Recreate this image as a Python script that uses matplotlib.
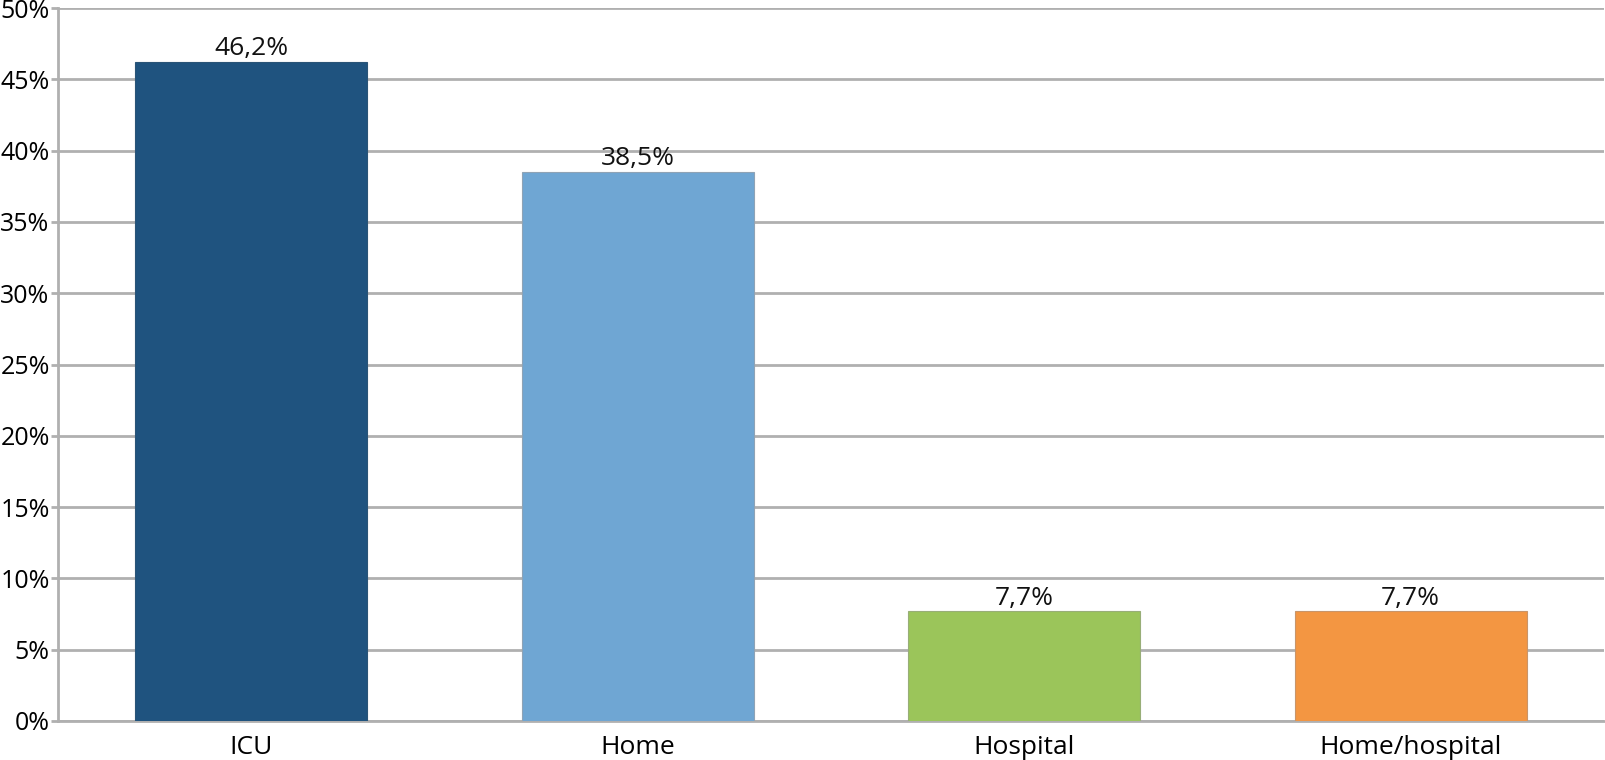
import matplotlib
matplotlib.use("Agg")
import matplotlib.pyplot as plt
import matplotlib.transforms as mtransforms
from matplotlib.ticker import FuncFormatter, MultipleLocator

categories = ["ICU", "Home", "Hospital", "Home/hospital"]
values = [46.2, 38.5, 7.7, 7.7]
labels = ["46,2%", "38,5%", "7,7%", "7,7%"]
colors = ["#1F537F", "#6FA6D3", "#9BC55A", "#F39642"]
edges = ["#2A5477", "#8FA3B5", "#98AE78", "#C8956A"]

plt.rcParams['font.family'] = ['Open Sans', 'DejaVu Sans']

fig = plt.figure(figsize=(16.06, 7.60), dpi=100)
left = 58
ax = fig.add_axes([left/1606, 1-721/760, (1604-left)/1606, 713/760])

x = list(range(len(categories)))
ax.bar(x, values, width=0.6, color=colors, edgecolor=edges, linewidth=0.8, zorder=3)
for xi, v, lab in zip(x, values, labels):
    ax.annotate(lab, (xi, v), xytext=(0, 0.5), textcoords='offset points',
                ha='center', va='bottom', fontsize=19, color='#111111', zorder=4)

ax.set_xlim(-0.5, len(categories) - 0.5)
ax.set_ylim(0, 50)
ax.yaxis.set_major_locator(MultipleLocator(5))
ax.yaxis.set_major_formatter(FuncFormatter(lambda v, p: f"{int(round(v))}%"))
ax.set_xticks(x)
ax.set_xticklabels(categories, fontsize=19)
ax.tick_params(axis='y', labelsize=18, length=5, width=2, color='#B0B0B0', pad=1)
ax.tick_params(axis='x', length=0, pad=10)
shift = mtransforms.ScaledTranslation(0, -3/100, fig.dpi_scale_trans)
for t in ax.get_yticklabels():
    t.set_verticalalignment('center')
    t.set_transform(t.get_transform() + shift)
ax.grid(axis='y', color='#B0B0B0', linewidth=2, zorder=0)
for s in ['top', 'right']:
    ax.spines[s].set_visible(False)
for s in ['left', 'bottom']:
    ax.spines[s].set_color('#B0B0B0')
    ax.spines[s].set_linewidth(2)

fig.savefig("out.png", dpi=100)
